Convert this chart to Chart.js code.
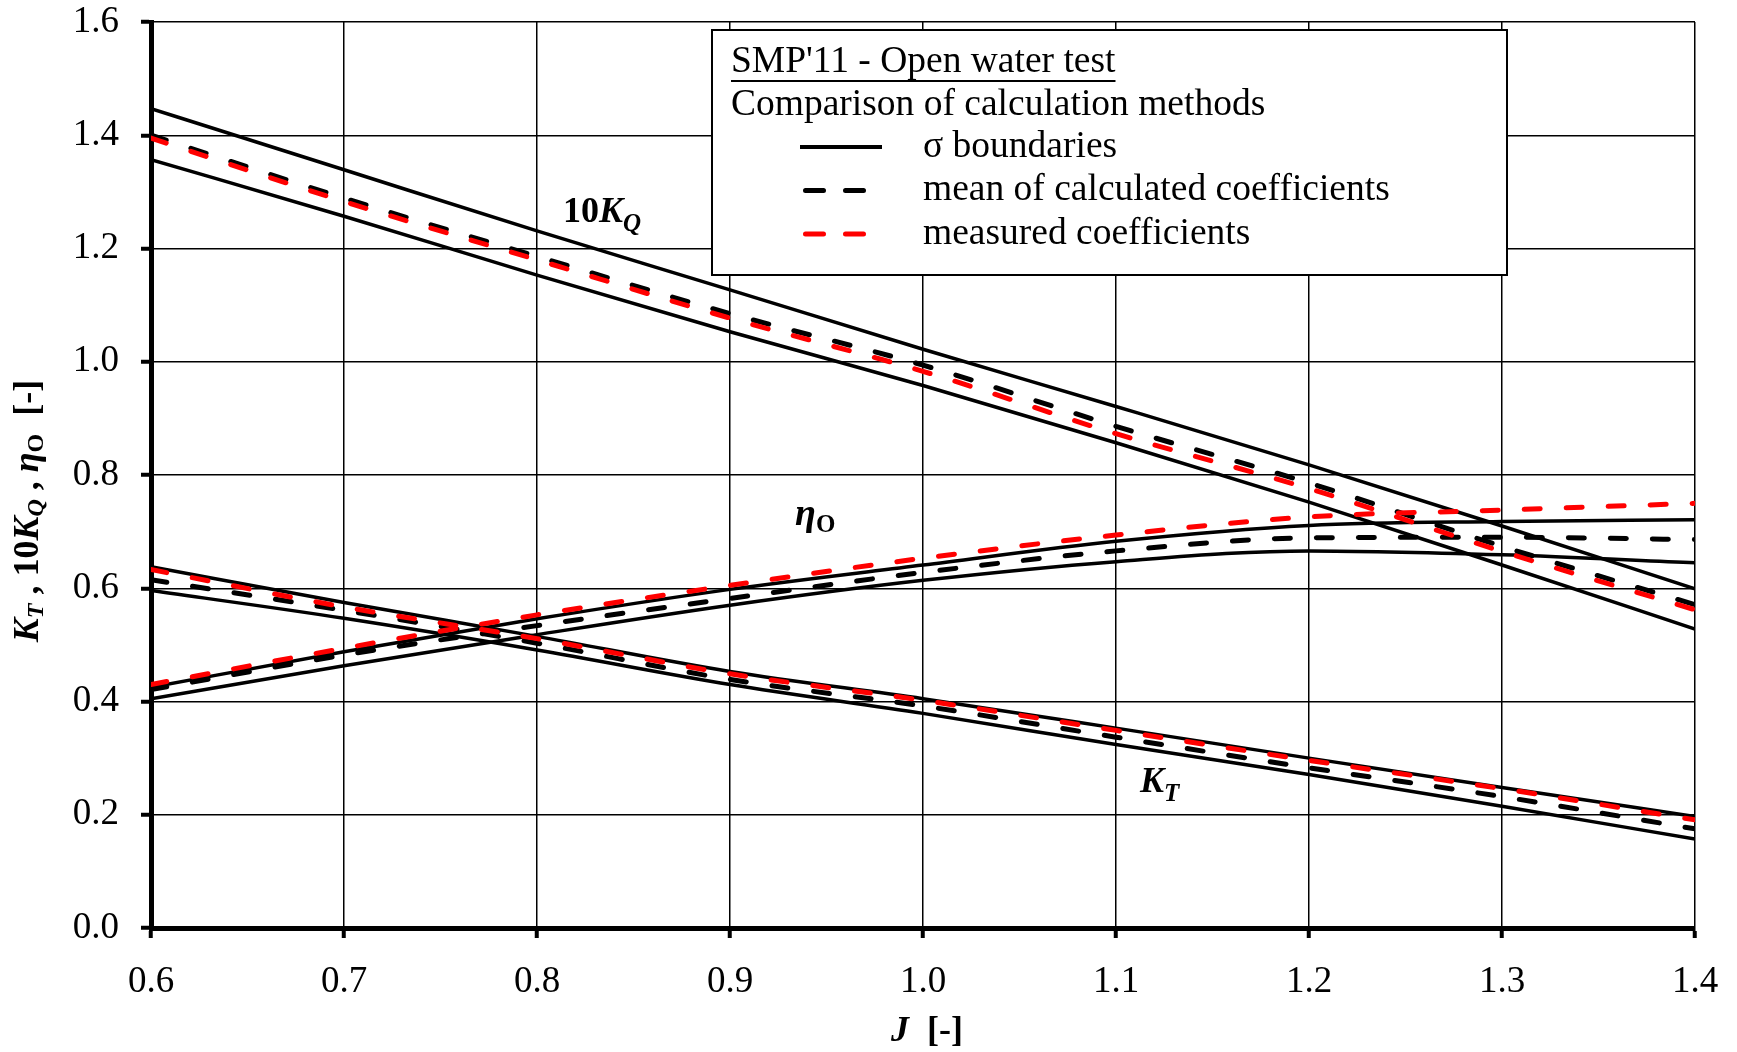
<!DOCTYPE html>
<html>
<head>
<meta charset="utf-8">
<script src="https://cdn.jsdelivr.net/npm/chart.js@4.4.1/dist/chart.umd.min.js"></script>
<style>
  html, body { margin: 0; padding: 0; background: #fff; }
  #wrap { width: 1737px; height: 1052px; }
</style>
</head>
<body>
<div id="wrap"><canvas id="owChart" width="1737" height="1052"></canvas></div>
<script>
// Advance coefficient J
const J = [0.6, 0.7, 0.8, 0.9, 1.0, 1.1, 1.2, 1.3, 1.4];

// 10KQ
const kqUpper    = [1.447, 1.339, 1.231, 1.127, 1.022, 0.921, 0.818, 0.710, 0.599];
const kqLower    = [1.357, 1.257, 1.153, 1.053, 0.958, 0.857, 0.752, 0.641, 0.528];
const kqMean     = [1.400, 1.289, 1.186, 1.085, 0.994, 0.886, 0.786, 0.674, 0.571];
const kqMeasured = [1.395, 1.283, 1.180, 1.077, 0.983, 0.873, 0.776, 0.665, 0.562];

// open water efficiency
const etaUpper    = [0.425, 0.488, 0.546, 0.598, 0.641, 0.683, 0.711, 0.718, 0.721];
const etaLower    = [0.405, 0.463, 0.518, 0.570, 0.614, 0.647, 0.666, 0.659, 0.645];
const etaMean     = [0.421, 0.482, 0.534, 0.582, 0.628, 0.666, 0.689, 0.690, 0.686];
const etaMeasured = [0.430, 0.494, 0.553, 0.605, 0.653, 0.694, 0.726, 0.738, 0.750];

// KT
const ktUpper    = [0.638, 0.575, 0.515, 0.453, 0.405, 0.353, 0.300, 0.248, 0.197];
const ktLower    = [0.596, 0.547, 0.491, 0.430, 0.379, 0.324, 0.271, 0.215, 0.157];
const ktMean     = [0.615, 0.561, 0.503, 0.439, 0.392, 0.337, 0.283, 0.232, 0.175];
const ktMeasured = [0.633, 0.567, 0.511, 0.449, 0.402, 0.349, 0.296, 0.246, 0.191];

const legendTitle = "SMP'11 - Open water test";
const legendSubtitle = 'Comparison of calculation methods';
const legendRows = [
    ['σ boundaries', 'bound'],
    ['mean of calculated coefficients', 'mean'],
    ['measured coefficients', 'measured']
];

const SERIF = '"Liberation Serif", "Times New Roman", serif';

const styles = {
    bound:    { borderColor: '#000000', borderWidth: 3.5, borderDash: [], borderCapStyle: 'butt', order: 2 },
    mean:     { borderColor: '#000000', borderWidth: 5, borderDash: [16, 26], borderCapStyle: 'round', order: 1 },
    measured: { borderColor: '#ff0000', borderWidth: 5, borderDash: [16, 26], borderCapStyle: 'round', order: 0 }
};

function series(label, values, kind) {
    return Object.assign({
        label: label,
        data: J.map((j, i) => ({ x: j, y: values[i] })),
        pointRadius: 0,
        fill: false,
        borderJoinStyle: 'round',
        cubicInterpolationMode: 'monotone'
    }, styles[kind]);
}

const datasets = [
    series('10KQ upper', kqUpper, 'bound'),
    series('10KQ lower', kqLower, 'bound'),
    series('eta upper', etaUpper, 'bound'),
    series('eta lower', etaLower, 'bound'),
    series('KT upper', ktUpper, 'bound'),
    series('KT lower', ktLower, 'bound'),
    series('10KQ mean', kqMean, 'mean'),
    series('eta mean', etaMean, 'mean'),
    series('KT mean', ktMean, 'mean'),
    series('10KQ measured', kqMeasured, 'measured'),
    series('eta measured', etaMeasured, 'measured'),
    series('KT measured', ktMeasured, 'measured')
];

// text made of runs: [font, text, baseline shift]
function runsWidth(ctx, runs) {
    let w = 0;
    runs.forEach(r => { ctx.font = r[0] + ' ' + SERIF; w += ctx.measureText(r[1]).width; });
    return w;
}
function drawRuns(ctx, runs, x, y) {
    let cx = x;
    runs.forEach(r => {
        ctx.font = r[0] + ' ' + SERIF;
        ctx.fillText(r[1], cx, y + (r[2] || 0));
        cx += ctx.measureText(r[1]).width;
    });
}

// curve names, anchored in data coordinates (left end of the baseline)
const curveNames = [
    { j: 0.8135, v: 1.247, runs: [['bold 36px', '10'], ['bold italic 36px', 'K'], ['bold italic 25px', 'Q', 9]] },
    { j: 0.9337, v: 0.712, runs: [['bold italic 38px', 'η'], ['bold 25px', 'O', 7]] },
    { j: 1.1124, v: 0.240, runs: [['bold italic 36px', 'K'], ['bold italic 25px', 'T', 9]] }
];

const decorPlugin = {
    id: 'decor',
    afterDraw(chart) {
        const ctx = chart.ctx;
        const xs = chart.scales.x, ys = chart.scales.y;
        ctx.save();
        ctx.fillStyle = '#000';
        ctx.textAlign = 'left';

        ctx.textBaseline = 'alphabetic';
        curveNames.forEach(c => {
            drawRuns(ctx, c.runs, xs.getPixelForValue(c.j), ys.getPixelForValue(c.v));
        });

        // y axis title, rotated
        const yTitle = [
            ['bold italic 36px', 'K'], ['bold italic 24px', 'T', 8], ['bold 36px', ' , 10'],
            ['bold italic 36px', 'K'], ['bold italic 24px', 'Q', 8], ['bold 36px', ' , '],
            ['bold italic 36px', 'η'], ['bold 24px', 'O', 8], ['bold 36px', '  [-]']
        ];
        ctx.save();
        ctx.translate(29, 511);
        ctx.rotate(-Math.PI / 2);
        ctx.textBaseline = 'middle';
        drawRuns(ctx, yTitle, -runsWidth(ctx, yTitle) / 2, 0);
        ctx.restore();

        // x axis title
        const xTitle = [['bold italic 36px', 'J'], ['bold 36px', '  [-]']];
        ctx.textBaseline = 'middle';
        drawRuns(ctx, xTitle, 927 - runsWidth(ctx, xTitle) / 2, 1032);

        // legend box
        const bx = 712, by = 30, bw = 795, bh = 245;
        ctx.fillStyle = '#fff';
        ctx.fillRect(bx, by, bw, bh);
        ctx.strokeStyle = '#000';
        ctx.lineWidth = 2;
        ctx.strokeRect(bx, by, bw, bh);

        ctx.fillStyle = '#000';
        ctx.font = '37.5px ' + SERIF;
        ctx.fillText(legendTitle, bx + 19, by + 32);
        const tw = ctx.measureText(legendTitle).width;
        ctx.beginPath();
        ctx.moveTo(bx + 19, by + 51);
        ctx.lineTo(bx + 19 + tw, by + 51);
        ctx.lineWidth = 2;
        ctx.stroke();
        ctx.fillText(legendSubtitle, bx + 19, by + 75);

        legendRows.forEach((row, i) => {
            const s = styles[row[1]];
            const y = by + 117 + i * 43.5;
            ctx.save();
            ctx.strokeStyle = s.borderColor;
            ctx.lineWidth = s.borderDash.length ? s.borderWidth : 4;
            ctx.lineCap = s.borderCapStyle;
            ctx.setLineDash(s.borderDash.length ? [18, 22] : []);
            const x0 = s.borderDash.length ? bx + 93.5 : bx + 88;
            ctx.beginPath();
            ctx.moveTo(x0, y);
            ctx.lineTo(bx + 170, y);
            ctx.stroke();
            ctx.restore();
            ctx.font = '37.5px ' + SERIF;
            ctx.fillText(row[0], bx + 211, y);
        });
        ctx.restore();
    }
};

const tickFont = { family: SERIF, size: 37 };

new Chart(document.getElementById('owChart').getContext('2d'), {
    type: 'line',
    data: { datasets: datasets },
    options: {
        responsive: false,
        devicePixelRatio: 1,
        animation: false,
        layout: { padding: { top: 22, right: 42, left: 0, bottom: 0 } },
        plugins: {
            legend: { display: false },
            title: { display: false },
            tooltip: { enabled: false }
        },
        scales: {
            x: {
                type: 'linear',
                min: 0.6,
                max: 1.4,
                afterFit: scale => {
                    scale.height = 124;
                    scale.paddingLeft = 0;
                    scale.paddingRight = 0;
                },
                border: { color: '#000', width: 5 },
                grid: { color: '#000', lineWidth: 1.5, tickLength: 10, tickWidth: 4, tickColor: '#000' },
                ticks: {
                    stepSize: 0.1,
                    autoSkip: false,
                    maxRotation: 0,
                    padding: 22,
                    color: '#000',
                    font: tickFont,
                    callback: v => v.toFixed(1)
                }
            },
            y: {
                type: 'linear',
                min: 0,
                max: 1.6,
                afterFit: scale => {
                    scale.width = 151;
                    scale.paddingTop = 0;
                    scale.paddingBottom = 0;
                },
                border: { color: '#000', width: 5 },
                grid: { color: '#000', lineWidth: 1.5, tickLength: 10, tickWidth: 4, tickColor: '#000' },
                ticks: {
                    stepSize: 0.2,
                    padding: 22,
                    color: '#000',
                    font: tickFont,
                    callback: v => v.toFixed(1)
                }
            }
        }
    },
    plugins: [decorPlugin]
});
</script>
</body>
</html>
